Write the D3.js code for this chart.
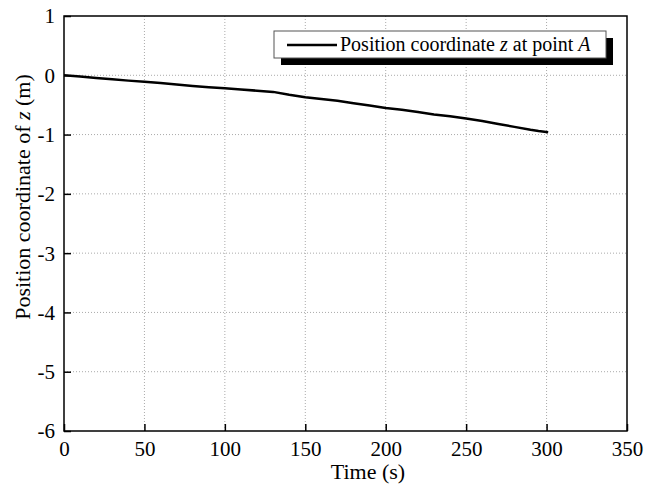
<!DOCTYPE html>
<html>
<head>
<meta charset="utf-8">
<script src="https://cdn.jsdelivr.net/npm/d3@7"></script>
<style>
  body { margin: 0; background: #fff; }
  text { font-family: "Liberation Serif", "Times New Roman", serif; fill: #000; }
</style>
</head>
<body>
<div id="svg_chart"></div>
<script>
// data
const time_s = [0, 10, 20, 30, 40, 50, 60, 70, 80, 90, 100, 110, 120, 130, 140, 150, 160, 170, 180, 190,
  200, 210, 220, 230, 240, 250, 260, 270, 280, 290, 295, 301];
const pos_z = [0, -0.02, -0.045, -0.065, -0.09, -0.11, -0.13, -0.155, -0.18, -0.2, -0.22, -0.24, -0.26, -0.28,
  -0.33, -0.37, -0.40, -0.43, -0.47, -0.51, -0.55, -0.58, -0.62, -0.66, -0.69, -0.73, -0.77, -0.82, -0.87,
  -0.92, -0.94, -0.96];
const x_ticks = [0, 50, 100, 150, 200, 250, 300, 350];
const y_ticks = [1, 0, -1, -2, -3, -4, -5, -6];

// Env params
const width = 658;
const height = 488;
const margin = {left: 64, top: 16, right: 31, bottom: 57};
const plot_w = width - margin.left - margin.right;
const plot_h = height - margin.top - margin.bottom;

var svg = d3.select('#svg_chart').append('svg')
  .attr('width', width)
  .attr('height', height);

var x = d3.scaleLinear().domain([0, 350]).range([margin.left, margin.left + plot_w]);
var y = d3.scaleLinear().domain([-6, 1]).range([margin.top + plot_h, margin.top]);

// grid lines
svg.append('g').selectAll('line')
  .data(x_ticks.slice(1, -1))
  .enter().append('line')
  .attr('x1', d => x(d)).attr('x2', d => x(d))
  .attr('y1', margin.top).attr('y2', margin.top + plot_h)
  .attr('stroke', '#aaa').attr('stroke-width', 1).attr('stroke-dasharray', '1,2');
svg.append('g').selectAll('line')
  .data(y_ticks.slice(1, -1))
  .enter().append('line')
  .attr('y1', d => y(d)).attr('y2', d => y(d))
  .attr('x1', margin.left).attr('x2', margin.left + plot_w)
  .attr('stroke', '#aaa').attr('stroke-width', 1).attr('stroke-dasharray', '1,2');

// axes with inward ticks
var xAxis = svg.append('g')
  .attr('transform', `translate(0, ${margin.top + plot_h})`)
  .call(d3.axisBottom(x).tickValues(x_ticks).tickSizeInner(-7).tickSizeOuter(0).tickPadding(10)
    .tickFormat(d => String(d)));
var yAxis = svg.append('g')
  .attr('transform', `translate(${margin.left}, 0)`)
  .call(d3.axisLeft(y).tickValues(y_ticks).tickSizeInner(-7).tickSizeOuter(0).tickPadding(9)
    .tickFormat(d => String(d)));
[xAxis, yAxis].forEach(a => {
  a.select('.domain').remove();
  a.selectAll('line').attr('stroke', '#000').attr('stroke-width', 1.5);
  a.selectAll('text').style('font-family', '"Liberation Serif", serif').style('font-size', '21px');
});
yAxis.selectAll('text').attr('dy', '0.33em');

// frame
svg.append('rect')
  .attr('x', margin.left).attr('y', margin.top)
  .attr('width', plot_w).attr('height', plot_h)
  .attr('fill', 'none').attr('stroke', '#000').attr('stroke-width', 1.5);

// series
var line = d3.line().x((d, i) => x(d)).y((d, i) => y(pos_z[i]));
svg.append('path')
  .datum(time_s)
  .attr('d', line)
  .attr('fill', 'none')
  .attr('stroke', '#000')
  .attr('stroke-width', 2.5)
  .attr('stroke-linejoin', 'round');

// axis titles
svg.append('text')
  .attr('x', 368).attr('y', 479)
  .attr('text-anchor', 'middle')
  .style('font-size', '22px')
  .text('Time (s)');

var ylab = svg.append('text')
  .attr('transform', 'translate(30, 197) rotate(-90)')
  .attr('text-anchor', 'middle')
  .style('font-size', '22px');
ylab.append('tspan').text('Position coordinate of ');
ylab.append('tspan').style('font-style', 'italic').text('z');
ylab.append('tspan').text(' (m)');

// legend with drop shadow
const lg = {x: 274, y: 31, w: 332, h: 27, off: 7};
svg.append('rect')
  .attr('x', lg.x + lg.off).attr('y', lg.y + lg.off)
  .attr('width', lg.w).attr('height', lg.h)
  .attr('fill', '#000');
svg.append('rect')
  .attr('x', lg.x).attr('y', lg.y)
  .attr('width', lg.w).attr('height', lg.h)
  .attr('fill', '#fff').attr('stroke', '#555').attr('stroke-width', 1);
svg.append('line')
  .attr('x1', lg.x + 13).attr('x2', lg.x + 63)
  .attr('y1', lg.y + 14).attr('y2', lg.y + 14)
  .attr('stroke', '#000').attr('stroke-width', 2.5);
var lt = svg.append('text')
  .attr('x', lg.x + 66).attr('y', lg.y + 20)
  .style('font-size', '20px');
lt.append('tspan').text('Position coordinate ');
lt.append('tspan').style('font-style', 'italic').text('z');
lt.append('tspan').text(' at point ');
lt.append('tspan').style('font-style', 'italic').text('A');
</script>
</body>
</html>
